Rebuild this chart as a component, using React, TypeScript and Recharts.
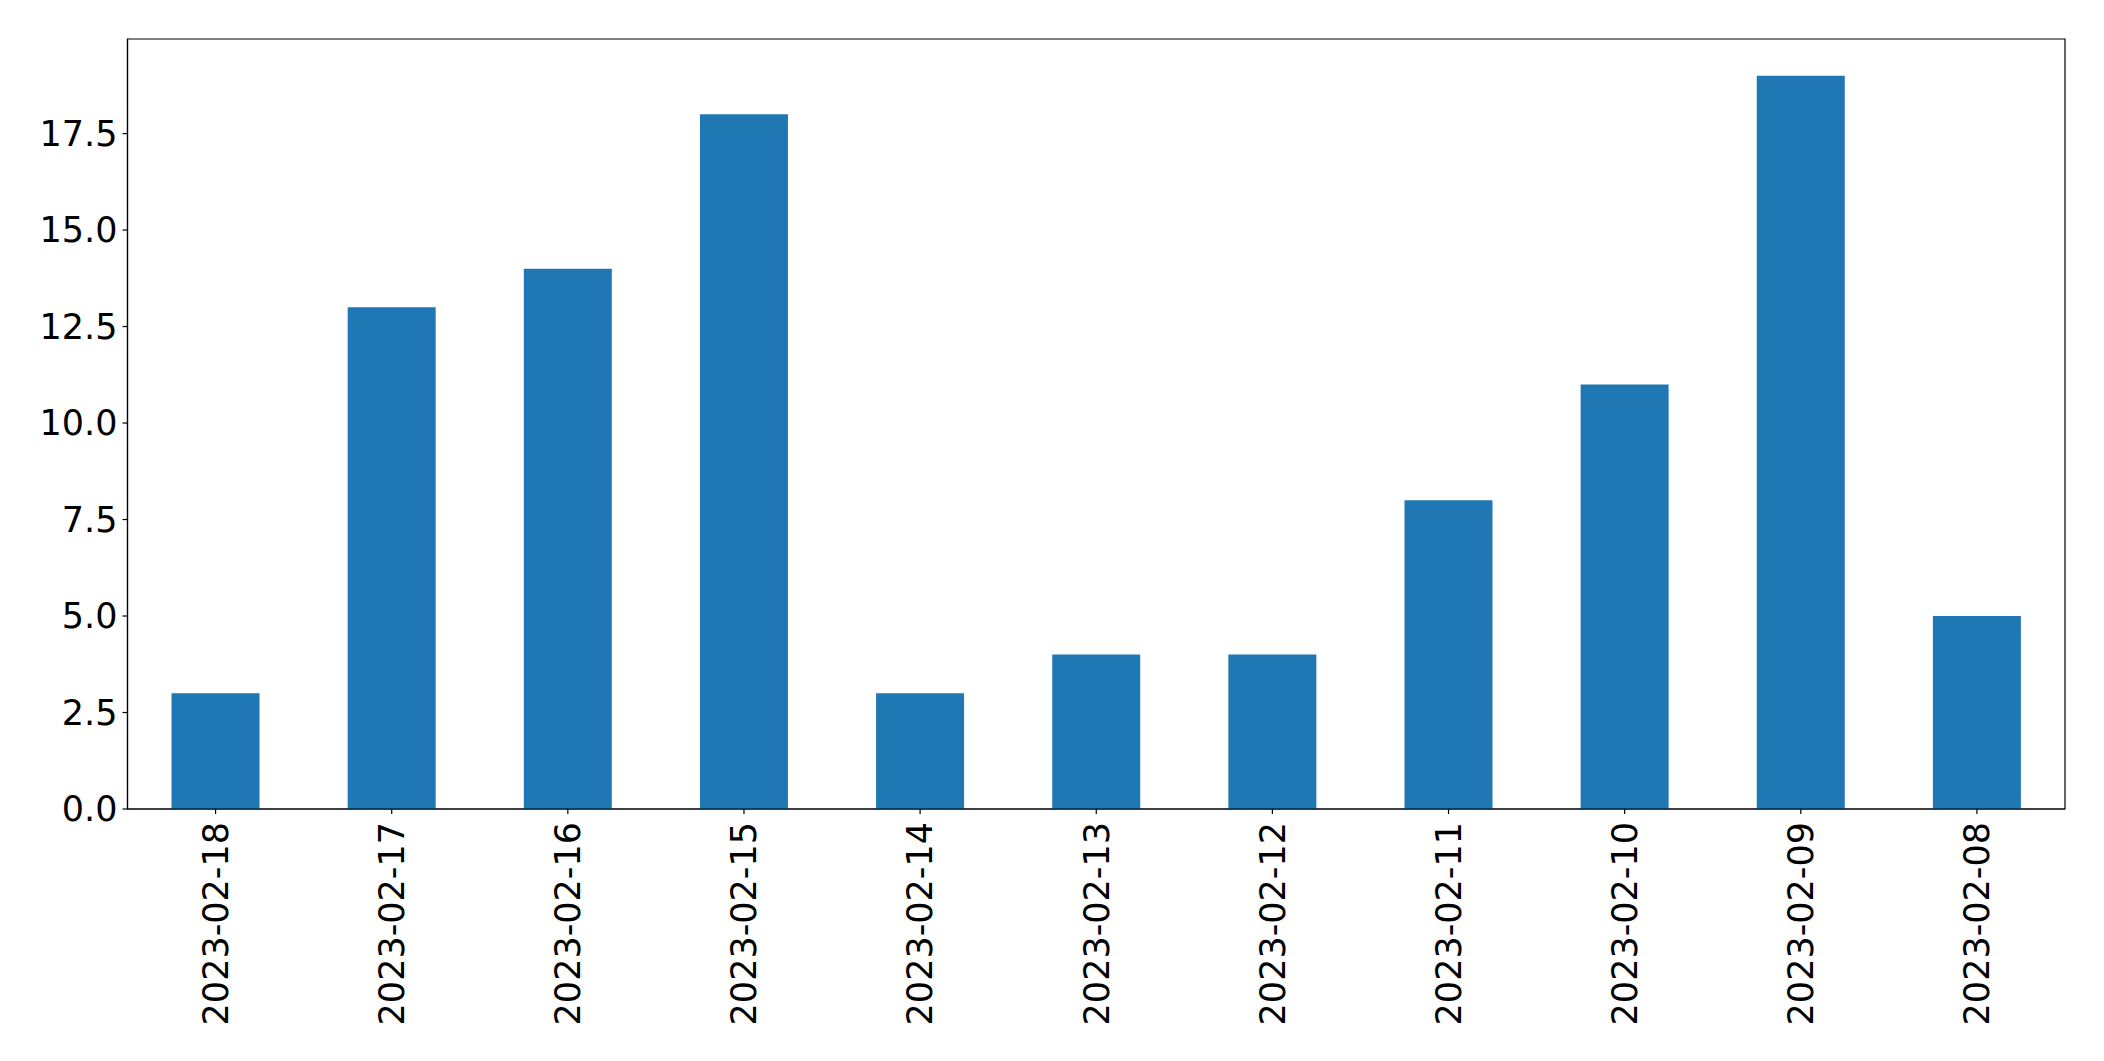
import React from 'react';
import { Bar, BarChart, ReferenceArea, XAxis, YAxis } from 'recharts';

const dates = [
    '2023-02-18',
    '2023-02-17',
    '2023-02-16',
    '2023-02-15',
    '2023-02-14',
    '2023-02-13',
    '2023-02-12',
    '2023-02-11',
    '2023-02-10',
    '2023-02-09',
    '2023-02-08',
];
const counts = [3, 13, 14, 18, 3, 4, 4, 8, 11, 19, 5];
const yTicks = [0, 2.5, 5, 7.5, 10, 12.5, 15, 17.5];
const Y_MAX = 19.95;

const data = dates.map((d, i) => ({ date: d, count: counts[i] }));

const FONT = '"DejaVu Sans", sans-serif';
const FONT_SIZE = 35;

const DateTick = (props: any) => {
    const { x, y, payload } = props;
    return (
        <text
            transform={`translate(${x},${y}) rotate(-90)`}
            textAnchor="end"
            dy="0.35em"
            fontFamily={FONT}
            fontSize={FONT_SIZE}
            fill="#000"
        >
            {payload.value}
        </text>
    );
};

const App = () => {
    return (
        <div style={{ position: 'absolute', left: 0, top: 0, background: '#fff' }}>
            <BarChart
                width={2104}
                height={1061}
                data={data}
                margin={{ top: 39, right: 39, left: 0, bottom: 0 }}
                barCategoryGap="25%"
            >
                <XAxis
                    dataKey="date"
                    height={252}
                    interval={0}
                    tick={<DateTick />}
                    tickSize={5}
                    tickMargin={8}
                    axisLine={{ stroke: '#000', strokeWidth: 1.2 }}
                    tickLine={{ stroke: '#000', strokeWidth: 1.2 }}
                />
                <YAxis
                    width={127.5}
                    domain={[0, Y_MAX]}
                    ticks={yTicks}
                    interval={0}
                    tickFormatter={(v: number) => v.toFixed(1)}
                    tick={{ fontFamily: FONT, fontSize: FONT_SIZE, fill: '#000' }}
                    tickSize={5}
                    tickMargin={5}
                    axisLine={{ stroke: '#000', strokeWidth: 1.2 }}
                    tickLine={{ stroke: '#000', strokeWidth: 1.2 }}
                />
                <Bar dataKey="count" fill="#1f77b4" isAnimationActive={false} />
                <ReferenceArea
                    y1={0}
                    y2={Y_MAX}
                    fill="none"
                    fillOpacity={0}
                    stroke="#000"
                    strokeWidth={1.2}
                    strokeOpacity={1}
                    ifOverflow="visible"
                />
            </BarChart>
        </div>
    );
};

export default App;
